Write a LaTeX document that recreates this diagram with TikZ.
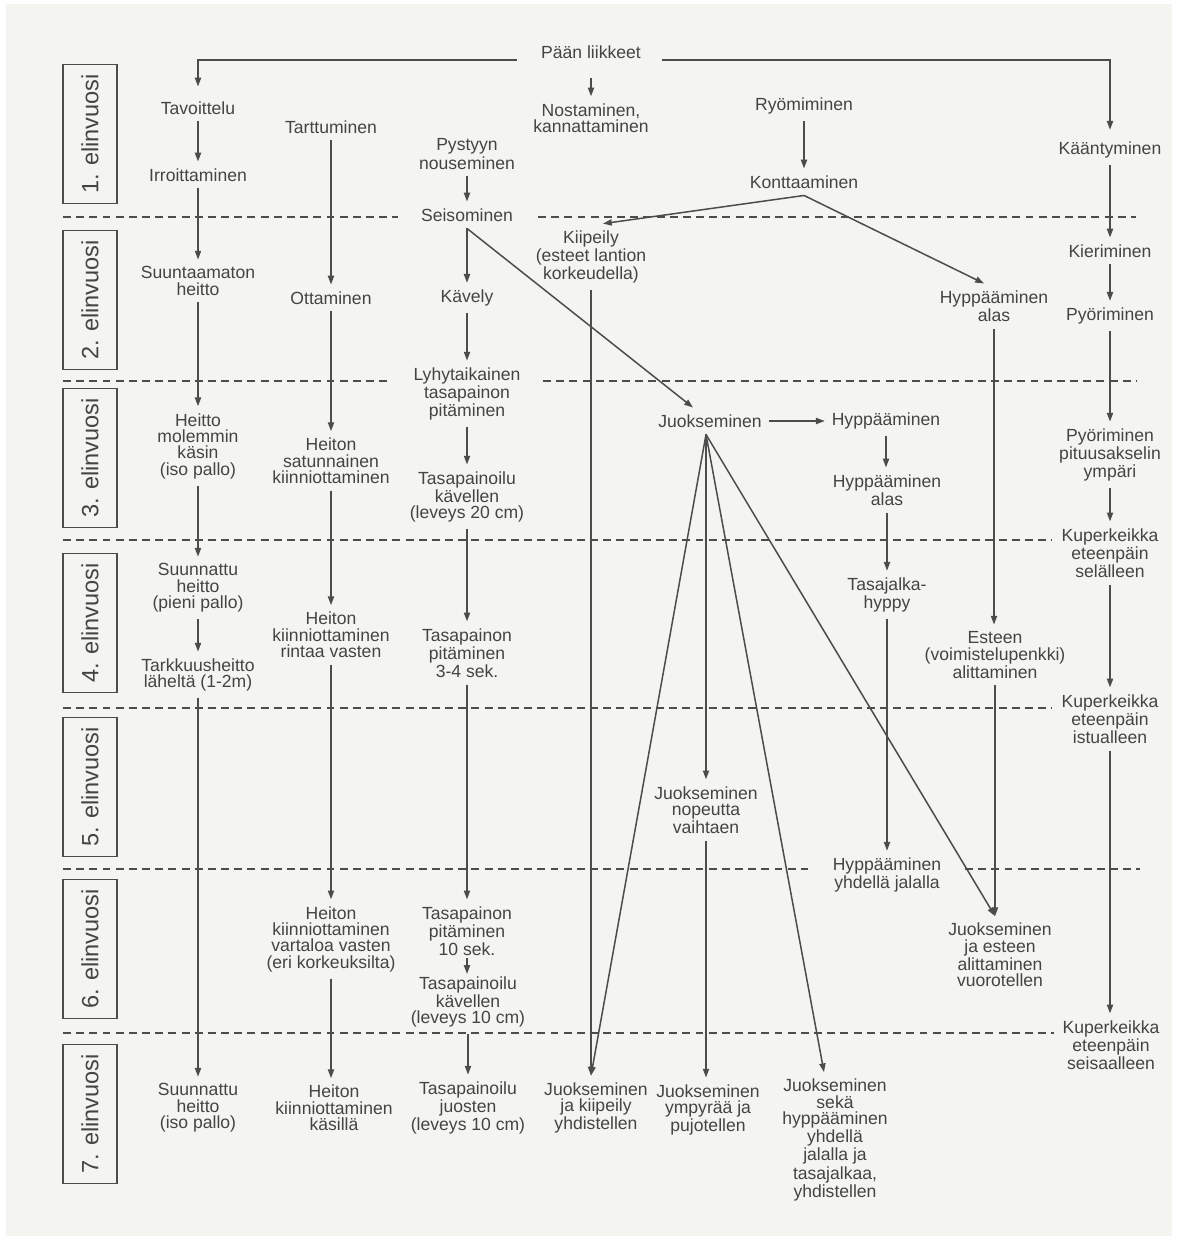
\documentclass[tikz,border=0pt]{standalone}
\usepackage{fontspec}
\setmainfont{Liberation Sans}
\usetikzlibrary{arrows.meta,calc}
\definecolor{Ink}{HTML}{444444}
\definecolor{Wire}{HTML}{4C4C4C}
\definecolor{Paper}{HTML}{F4F5F0}
\newcommand{\stagefont}{\fontsize{10}{9.3}\selectfont}
\newcommand{\yearfont}{\fontsize{13.4}{15}\selectfont}
\tikzset{
  skill/.style={
    align=center, font=\stagefont, text=Ink, inner sep=1.5pt, outer sep=2.5pt
  },
  yearbox/.style={
    draw=Wire, line width=0.9pt, rotate=90, font=\yearfont, text=Ink,
    minimum width=2.78cm, minimum height=1.08cm, inner sep=0pt
  },
  flow/.style={-{Triangle[length=5pt,width=3.5pt]}, line width=0.85pt, draw=Wire},
  agesep/.style={draw=Wire, line width=1.1pt, dash pattern=on 4.5pt off 3pt}
}

\begin{document}
\begin{tikzpicture}[x=0.02cm,y=-0.02cm]
    \useasboundingbox (0,0) rectangle (1189,1236);
    \fill[white] (0,0) rectangle (1189,1236);
    \fill[Paper] (6,4) rectangle (1172,1236);

    \foreach \n/\yc in {1/134,2/300,3/458,4/623,5/787,6/949,7/1114}
      \node[yearbox] (year\n) at (90,\yc) {\n. elinvuosi};
    \foreach \ya/\xa/\xb in {217/63/398,217/538/1136,381/63/387,381/543/1136,
        540/63/1052,708/63/1052,869/63/808,869/965/1140,1033/63/1054}
      \draw[agesep] (\xa,\ya) -- (\xb,\ya);

    \node[skill] (paan) at (591,52) {Pään liikkeet};
    \node[skill] (nost) at (591,118) {Nostaminen,\\kannattaminen};

    \node[skill] (tav) at (198,108) {Tavoittelu};
    \node[skill] (irr) at (198,175) {Irroittaminen};
    \node[skill] (suunt) at (198,281) {Suuntaamaton\\heitto};
    \node[skill] (heitmol) at (198,446) {Heitto\\molemmin\\käsin\\(iso pallo)};
    \node[skill] (suunpien) at (198,588) {Suunnattu\\heitto\\(pieni pallo)};
    \node[skill] (tark) at (198,675) {Tarkkuusheitto\\läheltä (1-2m)};
    \node[skill] (suuniso) at (198,1108) {Suunnattu\\heitto\\(iso pallo)};

    \node[skill] (tart) at (331,127) {Tarttuminen};
    \node[skill] (ott) at (331,298) {Ottaminen};
    \node[skill] (heitsat) at (331,461) {Heiton\\satunnainen\\kiinniottaminen};
    \node[skill] (heitrin) at (331,635) {Heiton\\kiinniottaminen\\rintaa vasten};
    \node[skill] (heitvar) at (331,939) {Heiton\\kiinniottaminen\\vartaloa vasten\\(eri korkeuksilta)};
    \node[skill] (heitkas) at (334,1108) {Heiton\\kiinniottaminen\\käsillä};

    \node[skill] (pyst) at (467,154) {Pystyyn\\nouseminen};
    \node[skill] (seis) at (467,215) {Seisominen};
    \node[skill] (kav) at (467,298) {Kävely};
    \node[skill] (lyhyt) at (467,394) {Lyhytaikainen\\tasapainon\\pitäminen};
    \node[skill] (tasa20) at (467,497) {Tasapainoilu\\kävellen\\(leveys 20 cm)};
    \node[skill] (tasa34) at (467,653) {Tasapainon\\pitäminen\\3-4 sek.};
    \node[skill] (tasa10s) at (467,931) {Tasapainon\\pitäminen\\10 sek.};
    \node[skill] (tasa10k) at (468,1002) {Tasapainoilu\\kävellen\\(leveys 10 cm)};
    \node[skill] (tasajuo) at (468,1108) {Tasapainoilu\\juosten\\(leveys 10 cm)};

    \node[skill] (kiip) at (591,257) {Kiipeily\\(esteet lantion\\korkeudella)};
    \node[skill] (jkiip) at (596,1108) {Juokseminen\\ja kiipeily\\yhdistellen};

    \node[skill] (ryom) at (804,106) {Ryömiminen};
    \node[skill] (kont) at (804,182) {Konttaaminen};

    \node[skill] (juoks) at (710,421) {Juokseminen};
    \node[skill] (jnop) at (706,810) {Juokseminen\\nopeutta\\vaihtaen};
    \node[skill] (jymp) at (708,1110) {Juokseminen\\ympyrää ja\\pujotellen};
    \node[skill] (jsek) at (835,1140) {Juokseminen\\sekä\\hyppääminen\\yhdellä\\jalalla ja\\tasajalkaa,\\yhdistellen};

    \node[skill] (hyp) at (886,421) {Hyppääminen};
    \node[skill] (hypalas2) at (887,490) {Hyppääminen\\alas};
    \node[skill] (tasaj) at (887,595) {Tasajalka-\\hyppy};
    \node[skill] (hypyhd) at (887,875) {Hyppääminen\\yhdellä jalalla};

    \node[skill] (hypalas) at (994,306) {Hyppääminen\\alas};
    \node[skill] (este) at (995,655) {Esteen\\(voimistelupenkki)\\alittaminen};
    \node[skill] (jeste) at (1000,955) {Juokseminen\\ja esteen\\alittaminen\\vuorotellen};

    \node[skill] (kaan) at (1110,150) {Kääntyminen};
    \node[skill] (kier) at (1110,251) {Kieriminen};
    \node[skill] (pyor) at (1110,316) {Pyöriminen};
    \node[skill] (pyorpit) at (1110,455) {Pyöriminen\\pituusakselin\\ympäri};
    \node[skill] (kupsel) at (1110,553) {Kuperkeikka\\eteenpäin\\selälleen};
    \node[skill] (kupist) at (1110,719) {Kuperkeikka\\eteenpäin\\istualleen};
    \node[skill] (kupseis) at (1111,1045) {Kuperkeikka\\eteenpäin\\seisaalleen};

    \coordinate (fan) at ($(juoks.south)+(-4,0)$);
    \coordinate (jktip) at (kiip.south |- jkiip.north);
    \coordinate (jetip) at (este.south |- jeste.north);

    \draw[flow] ($(paan.west)+(-17,8)$) -| ($(tav.north)+(0,-8)$);
    \draw[flow] ($(paan.east)+(14,8)$) -| ($(kaan.north)+(0,-5)$);
    \draw[flow,shorten <=7pt] (paan) -- (paan |- nost.north);

    \foreach \a/\b in {tav/irr,irr/suunt,suunt/heitmol,heitmol/suunpien,suunpien/tark,tark/suuniso,
        tart/ott,ott/heitsat,heitsat/heitrin,heitrin/heitvar,heitvar/heitkas,
        pyst/seis,seis/kav,kav/lyhyt,lyhyt/tasa20,tasa20/tasa34,tasa34/tasa10s,tasa10k/tasajuo,
        ryom/kont,hyp/hypalas2,hypalas2/tasaj,tasaj/hypyhd,hypalas/este,jnop/jymp,
        kaan/kier,kier/pyor,pyor/pyorpit,pyorpit/kupsel,kupsel/kupist,kupist/kupseis}
      \draw[flow] (\a) -- (\a |- \b.north);
    \draw[flow,shorten <=-2.5pt,shorten >=-2.5pt] (tasa10s) -- (tasa10s |- tasa10k.north);

    \draw[flow] (seis.south) -- ($(juoks.north)+(-17,0)$);
    \draw[flow] (kont.south) -- ($(kiip.north)+(12,0)$);
    \draw[flow] (kont.south) -- ($(hypalas.north)+(-10,0)$);
    \draw[flow] (juoks) -- (hyp);
    \draw[flow] (kiip) -- (jktip);
    \draw[flow] (fan) -- (jktip);
    \draw[flow] (fan) -- (fan |- jnop.north);
    \draw[flow] (fan) -- ($(jsek.north)+(-11,0)$);
    \draw[flow] (fan) -- (jetip);
    \draw[flow] (este) -- (jetip);
  \end{tikzpicture}
\end{document}
